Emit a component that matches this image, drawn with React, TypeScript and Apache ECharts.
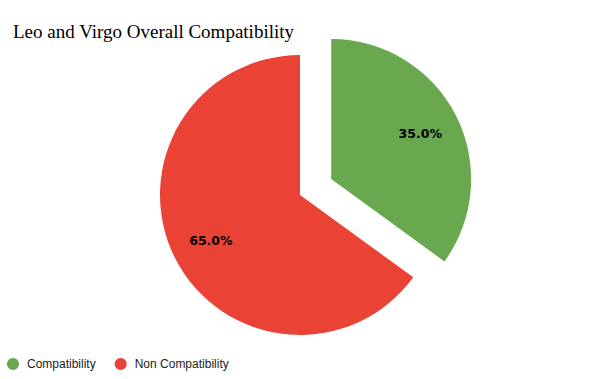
import React, { useEffect, useRef } from "react";
import * as echarts from "echarts";

const titleText = "Leo and Virgo Overall Compatibility";
const categories = ["Compatibility", "Non Compatibility"];
const values = [35, 65];
const colors = ["#6aa84f", "#ea4335"];

export default function App() {
  const ref = useRef<HTMLDivElement>(null);
  useEffect(() => {
    document.body.style.margin = "0";
    const chart = echarts.init(ref.current!, null, { renderer: "svg" });
    const data = categories.map((name, i) => ({
      name,
      value: values[i],
      selected: i === 0,
      itemStyle: { color: colors[i] },
    }));
    const total = values.reduce((a, b) => a + b, 0);
    chart.setOption({
      animation: false,
      title: {
        text: titleText,
        left: 8,
        top: 17,
        textStyle: {
          fontFamily: "Liberation Serif",
          fontWeight: "normal",
          fontSize: 19,
          color: "#000",
        },
      },
      legend: {
        left: 7,
        top: 358,
        padding: 0,
        icon: "circle",
        itemWidth: 18,
        itemHeight: 12,
        itemGap: 19,
        textStyle: { fontFamily: "Liberation Sans", fontSize: 12, color: "#222" },
        data: categories,
      },
      series: [
        {
          type: "pie",
          center: [300, 195],
          radius: [0, 140],
          startAngle: 90,
          clockwise: true,
          selectedMode: "single",
          selectedOffset: 35,
          label: { show: false },
          labelLine: { show: false },
          emphasis: { disabled: true },
          itemStyle: { borderWidth: 0 },
          data,
        },
        {
          type: "pie",
          center: [300, 195],
          radius: [54, 140],
          startAngle: 90,
          clockwise: true,
          selectedMode: "single",
          selectedOffset: 35,
          silent: true,
          legendHoverLink: false,
          emphasis: { disabled: true },
          itemStyle: { color: "transparent", borderWidth: 0 },
          label: {
            show: true,
            position: "inside",
            formatter: (p: any) => ((p.value / total) * 100).toFixed(1) + "%",
            fontFamily: "DejaVu Sans",
            fontWeight: "bold",
            fontSize: 12.5,
            color: "#000",
          },
          labelLine: { show: false },
          data: categories.map((name, i) => ({
            name,
            value: values[i],
            selected: i === 0,
            itemStyle: { color: "transparent" },
          })),
        },
      ],
    });
    return () => chart.dispose();
  }, []);
  return <div ref={ref} style={{ width: 600, height: 379 }} />;
}
